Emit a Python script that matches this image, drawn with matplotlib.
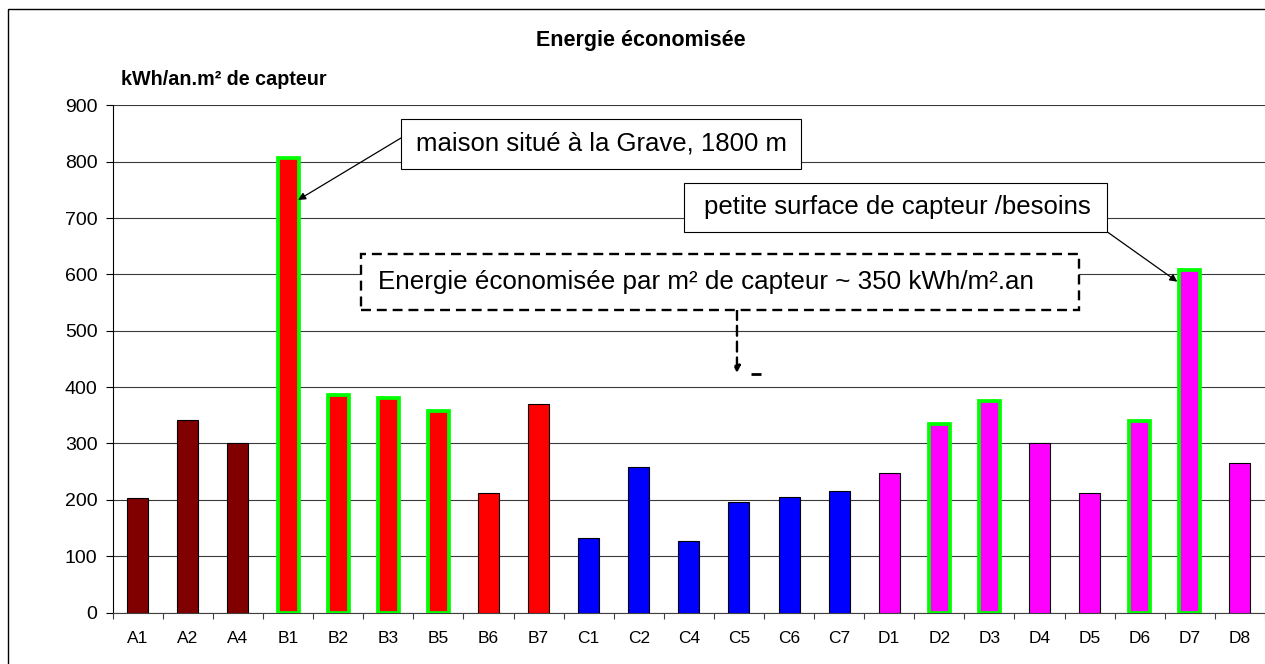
import matplotlib
matplotlib.use('Agg')
import matplotlib.pyplot as plt
from matplotlib.patches import Rectangle

plt.rcParams['font.family'] = ['Liberation Sans', 'DejaVu Sans']

# data
categories = ['A1', 'A2', 'A4', 'B1', 'B2', 'B3', 'B5', 'B6', 'B7',
              'C1', 'C2', 'C4', 'C5', 'C6', 'C7',
              'D1', 'D2', 'D3', 'D4', 'D5', 'D6', 'D7', 'D8']
values = [203, 341, 300, 806, 386, 380, 358, 212, 370,
          132, 258, 127, 196, 205, 215,
          247, 334, 375, 300, 212, 339, 607, 266]
highlighted = ['B1', 'B2', 'B3', 'B5', 'D2', 'D3', 'D6', 'D7']
group_colors = {'A': '#800000', 'B': '#ff0000', 'C': '#0000ff', 'D': '#ff00ff'}

title = 'Energie économisée'
unit_label = 'kWh/an.m² de capteur'
note_b1 = 'maison situé à la Grave, 1800 m'
note_d7 = 'petite surface de capteur /besoins'
note_avg = 'Energie économisée par m² de capteur ~ 350 kWh/m².an'

W, H = 1265, 664
fig = plt.figure(figsize=(W / 100, H / 100), dpi=100)

def fx(px):
    return px / W

def fy(py):
    return 1 - py / H

ax = fig.add_axes([fx(112.7), fy(612.5), (1265 - 112.7) / W, (612.5 - 105.3) / H])

x = list(range(len(categories)))
colors = [group_colors[c[0]] for c in categories]
edges = ['#00ff00' if c in highlighted else 'black' for c in categories]
lws = [2.7 if c in highlighted else 0.8 for c in categories]
ax.bar(x, values, width=0.42, color=colors, edgecolor=edges, linewidth=lws, zorder=3)

ax.set_xlim(-0.5, len(categories) - 0.5)
ax.set_ylim(0, 900)
ax.set_yticks(range(0, 901, 100))
ax.yaxis.grid(True, color='#3a3a3a', linewidth=0.8)
ax.set_axisbelow(True)

ax.set_xticks(x)
ax.set_xticklabels(categories)
ax.set_xticks([i - 0.5 for i in range(len(categories) + 1)], minor=True)
ax.tick_params(axis='x', which='major', length=0, pad=13, labelsize=12.5)
ax.tick_params(axis='x', which='minor', length=4.5, width=0.8, color='#404040', direction='out')
ax.tick_params(axis='y', length=5, width=0.8, pad=6, labelsize=14)

ax.spines['top'].set_visible(False)
ax.spines['right'].set_visible(False)
ax.spines['left'].set_linewidth(0.8)
ax.spines['bottom'].set_linewidth(0.8)
ax.spines['bottom'].set_color('#404040')

fig.text(fx(641), fy(46), title, ha='center', va='baseline', fontsize=15.5, fontweight='bold')
fig.text(fx(121), fy(85), unit_label, ha='left', va='baseline', fontsize=14.2, fontweight='bold')

# annotation boxes
def box(x0, y0, x1, y1, **kw):
    r = Rectangle((fx(x0), fy(y1)), (x1 - x0) / W, (y1 - y0) / H, transform=fig.transFigure,
                  facecolor='white', clip_on=False, zorder=6, **kw)
    ax.add_patch(r)

box(401, 119.3, 800.7, 169, edgecolor='black', linewidth=0.8)
ax.text(fx(601), fy(144), note_b1, transform=fig.transFigure, ha='center', va='center',
        fontsize=18.5, zorder=7)

box(684, 182.7, 1107, 231.7, edgecolor='black', linewidth=0.8)
ax.text(fx(897), fy(207), note_d7, transform=fig.transFigure, ha='center', va='center',
        fontsize=18.5, zorder=7)

box(361, 254, 1079, 310, edgecolor='black', linewidth=1.7, linestyle=(0, (4.2, 2.5)))
ax.text(fx(378), fy(282), note_avg, transform=fig.transFigure, ha='left', va='center',
        fontsize=18.7, zorder=7)

i_b1 = categories.index('B1')
ax.annotate('', xy=(i_b1 + 0.2, 732), xytext=(fx(401), fy(138)), textcoords='figure fraction',
            arrowprops=dict(arrowstyle='-|>', color='black', lw=0.9, mutation_scale=11,
                            shrinkA=0, shrinkB=0), zorder=5)
i_d7 = categories.index('D7')
ax.annotate('', xy=(i_d7 - 0.25, 587), xytext=(fx(1107), fy(231.7)), textcoords='figure fraction',
            arrowprops=dict(arrowstyle='-|>', color='black', lw=0.9, mutation_scale=11,
                            shrinkA=0, shrinkB=0), zorder=5)
ax.annotate('', xy=(11.96, 425), xytext=(fx(737), fy(310)), textcoords='figure fraction',
            arrowprops=dict(arrowstyle='-|>', color='black', lw=1.7, mutation_scale=10,
                            linestyle=(0, (4.2, 2.5)), shrinkA=0, shrinkB=0), zorder=5)
ax.plot([12.24, 12.44], [423, 423], color='black', lw=2, zorder=5, solid_capstyle='butt')

# chart border
fig.add_artist(Rectangle((fx(8.3), -0.1), 1.2, fy(9) + 0.1, transform=fig.transFigure,
                         fill=False, edgecolor='black', linewidth=1))

fig.savefig('out.png', dpi=100)
